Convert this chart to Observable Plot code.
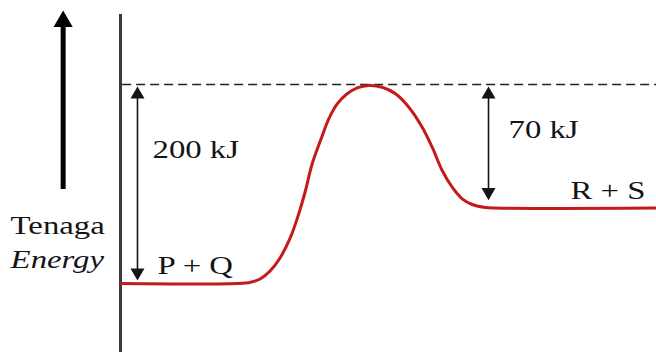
<!DOCTYPE html>
<html><head><meta charset="utf-8">
<script src="https://cdn.jsdelivr.net/npm/d3@7"></script>
<script src="https://cdn.jsdelivr.net/npm/@observablehq/plot@0.6"></script>
<style>body{margin:0;background:#fff} svg{display:block}</style>
</head><body><div id="chart"></div>
<script>
// Reaction progress (arbitrary units 0–100) and relative energy (P+Q = 0, peak = 100)
const progress = [0, 21.64, 24.25, 26.12, 27.99, 29.85, 31.72, 33.26, 34.51, 35.76, 37.31, 38.86, 40.43, 42.29, 44.16, 46.32, 48.82, 51.31, 53.79, 56.29, 58.15, 60.02, 61.88, 63.75, 65.62, 67.78, 69.96, 100];
const energy   = [0, 0, 0.65, 2.36, 6.53, 13.22, 23.27, 35.03, 46.73, 60.15, 71.86, 82.76, 90.30, 95.33, 98.34, 99.50, 98.64, 95.33, 88.59, 78.54, 68.49, 56.78, 48.39, 42.56, 39.70, 38.34, 37.94, 37.94];

const reactantLevel = 0;
const transitionLevel = 100;
const productLevel = 37.9;

const speciesLabels = ["P + Q", "R + S"];
const gapLabels = ["200 kJ", "70 kJ"];
const axisLabels = ["Tenaga", "Energy"];

const curve = progress.map((p, i) => ({p, e: energy[i]}));

const serif = "'Liberation Serif', 'Times New Roman', Times, serif";
const ink = "#141418";
const txt = {fontFamily: serif, fontSize: 26, fill: ink, textAnchor: "start", lineAnchor: "bottom"};

const leftArrowX = 3.17, rightArrowX = 68.66, bigArrowX = -10.7;

const chart = Plot.plot({
  width: 656, height: 352,
  marginLeft: 120, marginRight: 0, marginTop: 14, marginBottom: 0,
  x: {domain: [0, 100], range: [120, 656], axis: null},
  y: {domain: [0, 100], range: [283, 84], axis: null},
  style: {background: "#fff", overflow: "visible", fontFamily: serif},
  marks: [
    // energy axis line
    Plot.ruleX([0], {stroke: "#3a3a3a", strokeWidth: 3}),
    // transition-state level
    Plot.ruleY([transitionLevel], {x1: 0.4, x2: 100, stroke: "#222", strokeWidth: 1.5, strokeDasharray: "9,5"}),
    // energy profile
    Plot.line(curve, {x: "p", y: "e", curve: "catmull-rom", stroke: "#c41a1a", strokeWidth: 3}),
    // double arrows (shafts)
    Plot.ruleX([leftArrowX], {y1: transitionLevel, y2: reactantLevel, stroke: ink, strokeWidth: 1.6, insetTop: 8, insetBottom: 10}),
    Plot.ruleX([rightArrowX], {y1: transitionLevel, y2: productLevel, stroke: ink, strokeWidth: 1.6, insetTop: 8, insetBottom: 14}),
    // arrow heads
    Plot.dot([leftArrowX, rightArrowX], {x: d => d, y: transitionLevel, symbol: "triangle", r: 5.2, fill: ink, stroke: "none", dy: 10}),
    Plot.dot([leftArrowX], {x: d => d, y: reactantLevel, symbol: "triangle", rotate: 180, r: 5.2, fill: ink, stroke: "none", dy: -11}),
    Plot.dot([rightArrowX], {x: d => d, y: productLevel, symbol: "triangle", rotate: 180, r: 5.2, fill: ink, stroke: "none", dy: -16}),
    // big energy-direction arrow
    Plot.ruleX([bigArrowX], {y1: 47.2, y2: 131, stroke: "#000", strokeWidth: 5}),
    Plot.dot([bigArrowX], {x: d => d, y: 137.2, symbol: "triangle", r: 7.1, fill: "#000", stroke: "none", dy: 11}),
    // labels
    Plot.text([axisLabels[0]], {x: -20.5, y: 25.1, text: d => d, ...txt}),
    Plot.text([axisLabels[1]], {x: -20.5, y: 8.0, text: d => d, ...txt, fontStyle: "italic"}),
    Plot.text([gapLabels[0]], {x: 5.97, y: 63.3, text: d => d, ...txt}),
    Plot.text([gapLabels[1]], {x: 72.39, y: 72.9, text: d => d, ...txt}),
    Plot.text([speciesLabels[0]], {x: 6.9, y: 5.0, text: d => d, ...txt}),
    Plot.text([speciesLabels[1]], {x: 83.96, y: 42.7, text: d => d, ...txt})
  ]
});
document.getElementById("chart").appendChild(chart);
// the reference lettering is horizontally stretched
d3.select(chart).selectAll("text").each(function() {
  const w = this.getComputedTextLength();
  this.setAttribute("lengthAdjust", "spacingAndGlyphs");
  this.setAttribute("textLength", (w * 1.26).toFixed(1));
});
</script></body></html>
